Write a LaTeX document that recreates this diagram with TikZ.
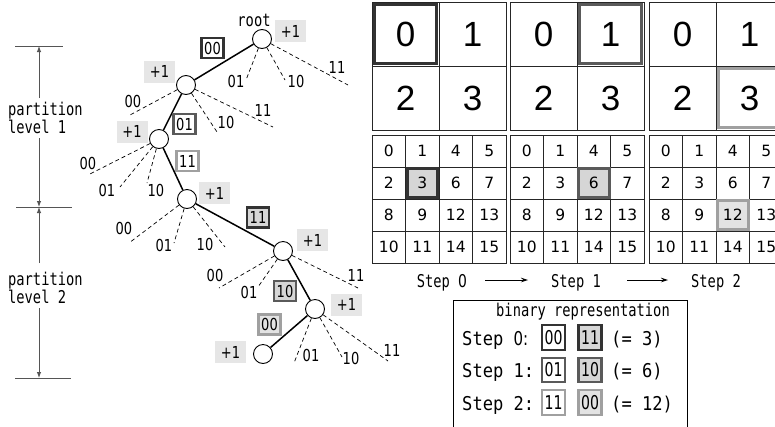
\documentclass[tikz,border=0pt]{standalone}
\usepackage{fontspec}
\usetikzlibrary{arrows.meta}
\newfontfamily\gm[FakeStretch=0.78]{DejaVu Sans Mono}
\newfontfamily\gmb[FakeStretch=0.9]{DejaVu Sans Mono}
\newfontfamily\gd[FakeStretch=0.79]{DejaVu Sans}
\newfontfamily\gdb[FakeStretch=0.74]{DejaVu Sans}
\newfontfamily\gn{DejaVu Sans}
\newfontfamily\gbig{Liberation Sans}
\definecolor{dk}{HTML}{333333}
\definecolor{md}{HTML}{5A5A5A}
\definecolor{lt}{HTML}{A0A0A0}
\definecolor{fg}{HTML}{D6D6D6}
\definecolor{fl}{HTML}{E3E3E3}
\definecolor{pb}{HTML}{E6E6E6}
\definecolor{dimc}{HTML}{555555}
\begin{document}
\begin{tikzpicture}[x=1pt,y=-1pt,
  tn/.style={circle,draw,fill=white,minimum size=19pt,inner sep=0pt,line width=0.9pt},
  pl/.style={fill=pb,minimum width=31pt,minimum height=22pt,inner sep=0pt,font=\gd\fontsize{16.5}{18}\selectfont},
  eb/.style={draw=#1,line width=2.2pt,minimum width=22pt,minimum height=20pt,inner sep=0pt,font=\gd\fontsize{16.5}{18}\selectfont},
  bb/.style={draw=#1,line width=2.2pt,minimum width=23pt,minimum height=24.5pt,inner sep=0pt,font=\gdb\fontsize{19}{22}\selectfont},
  dl/.style={font=\gd\fontsize{16.5}{18}\selectfont,inner sep=0pt},
  br/.style={dash pattern=on 4pt off 3pt,line width=0.7pt},
  ed/.style={line width=1.5pt},
  gl/.style={line width=0.8pt,draw=black!85},
  bdig/.style={font=\gbig\fontsize{35}{37}\selectfont,inner sep=0pt},
  sdig/.style={font=\gn\fontsize{15.5}{17}\selectfont,inner sep=0pt},
  mt/.style={font=\gm\fontsize{17.6}{18}\selectfont,inner sep=0pt},
  mtb/.style={font=\gmb\fontsize{19}{22}\selectfont,inner sep=0pt},
  dimln/.style={draw=dimc,line width=0.9pt},
  dimar/.style={draw=dimc,line width=0.9pt,-{Latex[length=6pt,width=4.5pt]}},
  stp/.style={line width=0.8pt,-{Stealth[length=7pt,width=4.5pt]}}
]
\useasboundingbox (0,0) rectangle (775,426);
\clip (0,0) rectangle (775,426);
\fill[white] (0,0) rectangle (775,426);

% ---------- left dimension lines ----------
\coordinate (t1) at (15,46); \coordinate (t2) at (63,46);
\coordinate (m1) at (16,207); \coordinate (m2) at (72,207);
\coordinate (q1) at (15,378); \coordinate (q2) at (71,378);
\coordinate (v1) at (39,98); \coordinate (vt) at (39,46);
\coordinate (v2) at (39,138); \coordinate (vm) at (39,207);
\coordinate (v3) at (39,263);
\coordinate (v4) at (39,308); \coordinate (vb) at (39,378);
\draw[dimln] (t1) -- (t2);
\draw[dimln] (m1) -- (m2);
\draw[dimln] (q1) -- (q2);
\draw[dimar] (v1) -- (vt);
\draw[dimar] (v2) -- (vm);
\draw[dimar] (v3) -- (vm);
\draw[dimar] (v4) -- (vb);
\node[mt,anchor=north west,align=left] (lv1) at (8,102) {partition\\level 1};
\node[mt,anchor=north west,align=left] (lv2) at (8,272) {partition\\level 2};

% ---------- tree ----------
\node[tn] (r) at (262,39) {};
\node[tn] (a) at (186,85) {};
\node[tn] (b) at (159,139) {};
\node[tn] (c) at (187,199) {};
\node[tn] (d) at (283,251) {};
\node[tn] (e) at (315,309) {};
\node[tn] (f) at (263,354) {};
\node[mt] (rt) at (254,20) {root};

\draw[ed] (r) -- (a);
\draw[ed] (a) -- (b);
\draw[ed] (b) -- (c);
\draw[ed] (c) -- (d);
\draw[ed] (d) -- (e);
\draw[ed] (e) -- (f);

% dashed branches
\coordinate (r01) at (246,80);  \coordinate (r10) at (285,80);  \coordinate (r11) at (348,85);
\coordinate (a00) at (130,115); \coordinate (a10) at (217,132); \coordinate (a11) at (273,127);
\coordinate (b00) at (88,175);  \coordinate (b01) at (120,187); \coordinate (b10) at (147,183);
\coordinate (c00) at (129,243); \coordinate (c01) at (174,243); \coordinate (c10) at (225,247);
\coordinate (d00) at (219,288); \coordinate (d01) at (258,287); \coordinate (d11) at (358,288);
\coordinate (e01) at (294,363); \coordinate (e10) at (342,357); \coordinate (e11) at (388,361);
\foreach \p/\q in {r/r01,r/r10,r/r11,a/a00,a/a10,a/a11,b/b00,b/b01,b/b10,c/c00,c/c01,c/c10,d/d00,d/d01,d/d11,e/e01,e/e10,e/e11}
  \draw[br] (\p) -- (\q);

\node[dl] (lr01) at (236,81) {01};
\node[dl] (lr10) at (296,81) {10};
\node[dl] (lr11) at (337,67) {11};
\node[dl] (la00) at (133,101) {00};
\node[dl] (la10) at (226,122) {10};
\node[dl] (la11) at (263,110) {11};
\node[dl] (lb00) at (88,163) {00};
\node[dl] (lb01) at (107,190) {01};
\node[dl] (lb10) at (156,190) {10};
\node[dl] (lc00) at (124,228) {00};
\node[dl] (lc01) at (164,245) {01};
\node[dl] (lc10) at (205,244) {10};
\node[dl] (ld00) at (215,275) {00};
\node[dl] (ld01) at (249,292) {01};
\node[dl] (ld11) at (356,275) {11};
\node[dl] (le01) at (311,355) {01};
\node[dl] (le10) at (351,358) {10};
\node[dl] (le11) at (392,350) {11};

% edge label boxes
\node[eb=dk,fill=white] (l1) at (212.5,48) {00};
\node[eb=md,fill=white] (l2) at (184.5,124) {01};
\node[eb=lt,fill=white] (l3) at (187.5,161) {11};
\node[eb=dk,fill=fg] (l4) at (258,217.5) {11};
\node[eb=md,fill=fg] (l5) at (285,291) {10};
\node[eb=lt,fill=fl] (l6) at (269.5,324.5) {00};

% +1 boxes
\node[pl] (p0) at (290.5,31) {+1};
\node[pl] (p1) at (159.5,71.5) {+1};
\node[pl] (p2) at (132,131.5) {+1};
\node[pl] (p3) at (214.5,193) {+1};
\node[pl] (p4) at (312.5,240) {+1};
\node[pl] (p5) at (346.5,304.5) {+1};
\node[pl] (p6) at (230.5,352) {+1};

% ---------- 2x2 grids ----------
\foreach \gx in {372,510,649}{
  \draw[gl] (\gx,2) rectangle (\gx+134,130);
  \draw[gl] (\gx+67,2) -- (\gx+67,130);
  \draw[gl] (\gx,66) -- (\gx+134,66);
}
\draw[draw=dk,line width=3.5pt] (374.5,4.5) rectangle (436.5,63.5);
\draw[draw=md,line width=3.5pt] (579.5,4.5) rectangle (641.5,63.5);
\draw[draw=lt,line width=3.5pt] (718.5,68.5) rectangle (780.5,127.5);
\foreach \gx [count=\gi] in {372,510,649}{
  \node[bdig] (T\gi a) at (\gx+33.5,34) {0};
  \node[bdig] (T\gi b) at (\gx+100.5,34) {1};
  \node[bdig] (T\gi c) at (\gx+33.5,98) {2};
  \node[bdig] (T\gi d) at (\gx+100.5,98) {3};
}

% ---------- 4x4 grids ----------
\foreach \gx in {372,510,649}{
  \draw[gl] (\gx,135) rectangle (\gx+134,263);
  \foreach \i in {1,2,3}{
    \draw[gl] (\gx+33.5*\i,135) -- (\gx+33.5*\i,263);
    \draw[gl] (\gx,135+32*\i) -- (\gx+134,135+32*\i);
  }
}
\draw[draw=dk,fill=fg,line width=3pt] (407,168.5) rectangle (437.5,197.5);
\draw[draw=md,fill=fg,line width=3pt] (578.5,168.5) rectangle (609,197.5);
\draw[draw=lt,fill=fl,line width=3pt] (717.5,200.5) rectangle (748,229.5);
\foreach \gx [count=\gi] in {372,510,649}{
  \foreach \v [count=\k from 0] in {0,1,4,5,2,3,6,7,8,9,12,13,10,11,14,15}{
    \pgfmathtruncatemacro\cx{mod(\k,4)}
    \pgfmathtruncatemacro\cy{floor(\k/4)}
    \node[sdig] (S\gi-\k) at (\gx+33.5*\cx+16.75,135+32*\cy+16) {\v};
  }
}

% step labels
\node[mt,anchor=base] (s0) at (442,287) {Step {\gd 0}};
\node[mt,anchor=base] (s1) at (576,287) {Step 1};
\node[mt,anchor=base] (s2) at (716,287) {Step 2};
\coordinate (a0s) at (485,280); \coordinate (a0e) at (528,280);
\coordinate (a1s) at (627,280); \coordinate (a1e) at (668,280);
\draw[stp] (a0s) -- (a0e);
\draw[stp] (a1s) -- (a1e);

% ---------- binary representation box ----------
\draw[line width=0.8pt] (453,430) -- (453,300) -- (687,300) -- (687,430);
\node[mt,anchor=base] (bt) at (583,316) {binary representation};
\foreach \y/\s/\a/\b/\c/\f/\v [count=\i] in {345/{\gd 0}/00/11/dk/fg/3, 377.5/1/01/10/md/fg/6, 410/2/11/00/lt/fl/12}{
  \node[mtb,anchor=base west] (bs\i) at (462,\y) {Step \s:};
  \node[bb=\c,fill=white] (bx\i) at (553.5,\y-7.5) {\a};
  \node[bb=\c,fill=\f] (by\i) at (590,\y-7.5) {\b};
  \node[mtb,anchor=base west] (bv\i) at (611,\y) {(= \v)};
}
\end{tikzpicture}
\end{document}
